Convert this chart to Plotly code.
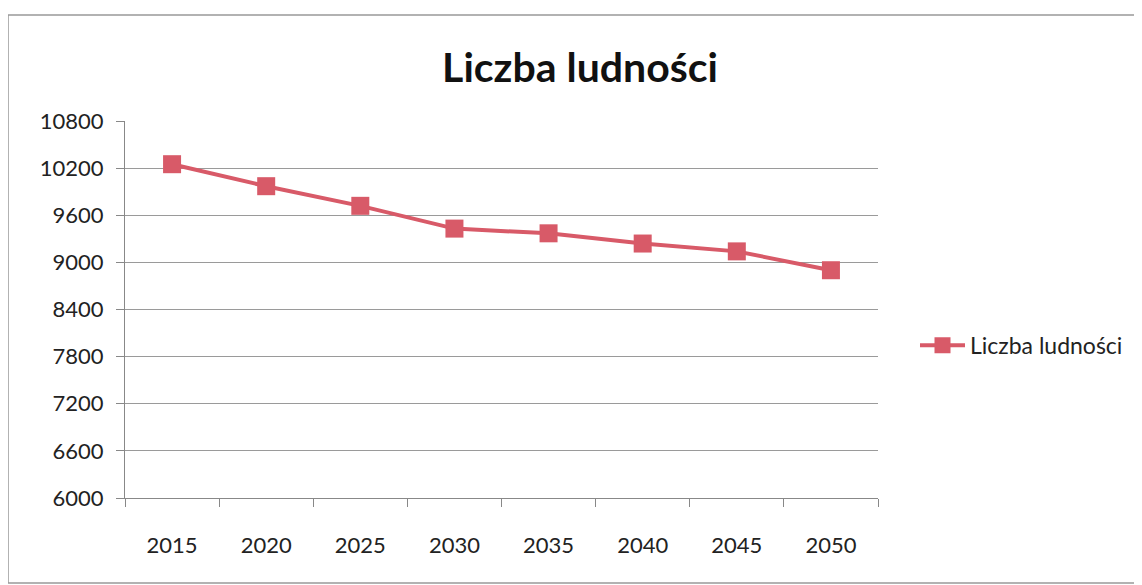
import plotly.graph_objects as go

years = ["2015", "2020", "2025", "2030", "2035", "2040", "2045", "2050"]
population = [10250, 9970, 9720, 9430, 9370, 9240, 9140, 8900]
y_ticks = [6000, 6600, 7200, 7800, 8400, 9000, 9600, 10200, 10800]
y_tick_labels = [str(v) for v in y_ticks]
series_name = "Liczba ludności"
title_text = "Liczba ludności"

FONT = "Lato"
LINE_COLOR = "#d85a68"

# page body has an 8px default margin; size the figure to the visible area
W, H = 1134, 577
L, T = 117, 113
PW, PH = 753, 377

fig = go.Figure()
fig.add_trace(go.Scatter(
    x=years, y=population, name=series_name, mode="lines+markers",
    line=dict(color=LINE_COLOR, width=4),
    marker=dict(symbol="square", size=18, color=LINE_COLOR),
))

fig.update_layout(
    width=W, height=H,
    paper_bgcolor="white", plot_bgcolor="white",
    margin=dict(l=L, r=W - L - PW, t=T, b=H - T - PH),
    title=dict(text="<b>" + title_text + "</b>", x=(580 - 8) / W, xanchor="center",
               y=1 - 60 / H, yanchor="middle", yref="container",
               font=dict(family=FONT, size=41, color="#111111")),
    font=dict(family=FONT, color="#222222"),
    showlegend=True,
    legend=dict(x=(907 - L) / PW, xanchor="left", y=0.405, yanchor="middle",
                font=dict(family=FONT, size=23, color="#222222"),
                bgcolor="rgba(0,0,0,0)", itemwidth=45),
    xaxis=dict(type="category", range=[-0.5, 7.5], tickson="boundaries",
               ticks="outside", ticklen=8, tickcolor="#888888",
               showline=True, linecolor="#888888", linewidth=1,
               showgrid=False, tickfont=dict(size=22, color="#222222"),
               ticklabelstandoff=28),
    yaxis=dict(range=[6000, 10800], tickvals=y_ticks, ticktext=y_tick_labels,
               ticks="outside", ticklen=8, tickcolor="#888888",
               showline=True, linecolor="#888888", linewidth=1,
               showgrid=True, gridcolor="#9a9a9a", gridwidth=1,
               zeroline=False, tickfont=dict(size=22, color="#222222"),
               ticklabelstandoff=8),
)

fig.add_shape(type="rect", xref="paper", yref="paper",
              x0=(0 - L) / PW, x1=(1127 - L) / PW,
              y0=(T + PH - 575) / PH, y1=(T + PH - 7) / PH,
              line=dict(color="#999999", width=1.5), layer="below")

fig.write_html("out.html")
